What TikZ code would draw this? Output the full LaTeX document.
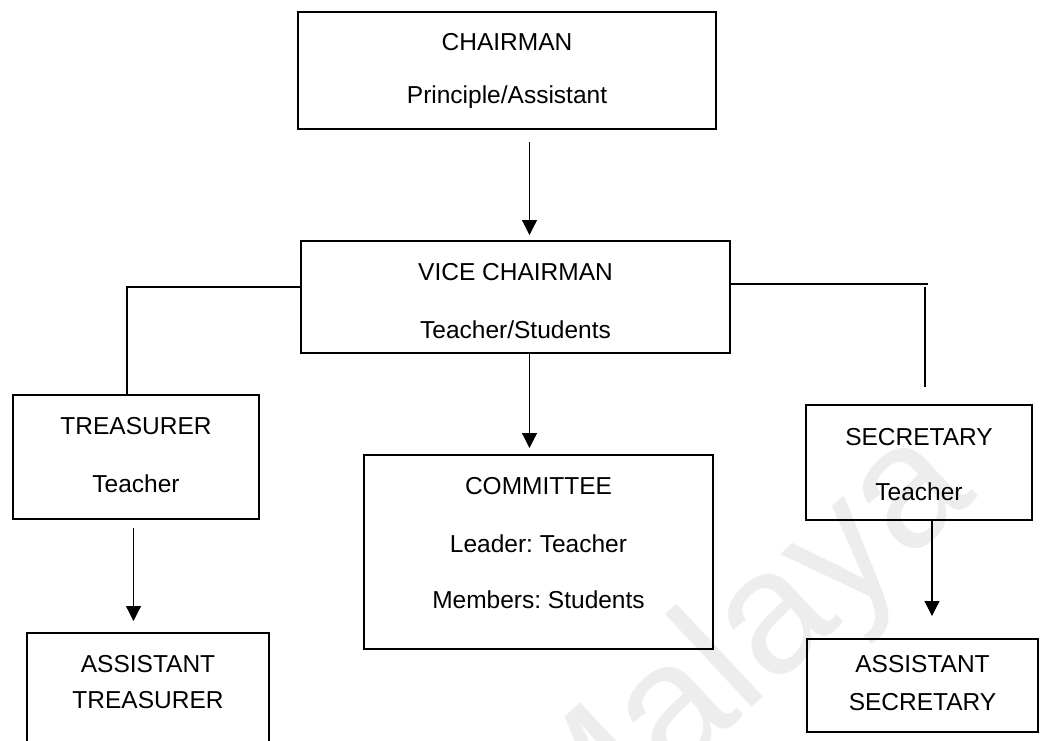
\documentclass[tikz,border=0pt]{standalone}
\usepackage{fontspec}
\setmainfont{Liberation Sans}
\usetikzlibrary{arrows.meta}
\frenchspacing
\begin{document}
\begin{tikzpicture}[x=1pt,y=-1pt,
  box/.style={draw=black, line width=2.6pt, rectangle, inner sep=0pt, outer sep=0pt},
  txt/.style={font=\fontsize{24.5}{29}\selectfont, anchor=base, inner sep=0pt},
  link/.style={line width=1.2pt},
  arr/.style={line width=1.2pt, -{Triangle[width=15pt,length=15pt]}}]
\clip (0,0) rectangle (1042,740);
\fill[white] (0,0) rectangle (1042,740);

% faint watermark
\node[anchor=base west, inner sep=0pt, rotate=43, text=black!7,
      font=\fontsize{175}{175}\selectfont] (wm) at (566,881) {Malaya};

% boxes
\node[box, minimum width=418pt, minimum height=117pt] (chair)  at (507,70.5) {};
\node[box, minimum width=429pt, minimum height=112pt] (vice)   at (515.5,297) {};
\node[box, minimum width=246pt, minimum height=124pt] (treas)  at (136,457) {};
\node[box, minimum width=349pt, minimum height=194pt] (comm)   at (538.5,552) {};
\node[box, minimum width=226pt, minimum height=115pt] (sec)    at (919,462.5) {};
\node[box, minimum width=242pt, minimum height=140pt] (atreas) at (148,703) {};
\node[box, minimum width=231pt, minimum height=93pt]  (asec)   at (922.5,685.5) {};

% texts
\node[txt] (t1a) at (507,50)  {CHAIRMAN};
\node[txt] (t1b) at (507,103) {Principle/Assistant};
\node[txt] (t2a) at (515.5,280) {VICE CHAIRMAN};
\node[txt] (t2b) at (515.5,338) {Teacher/Students};
\node[txt] (t3a) at (136,434) {TREASURER};
\node[txt] (t3b) at (136,492) {Teacher};
\node[txt] (t4a) at (538.5,494) {COMMITTEE};
\node[txt] (t4b) at (538.5,552) {Leader: Teacher};
\node[txt] (t4c) at (538.5,608) {Members: Students};
\node[txt] (t5a) at (919,445) {SECRETARY};
\node[txt] (t5b) at (919,500) {Teacher};
\node[txt] (t6a) at (148,672) {ASSISTANT};
\node[txt] (t6b) at (148,708) {TREASURER};
\node[txt] (t7a) at (922.5,672) {ASSISTANT};
\node[txt] (t7b) at (922.5,710) {SECRETARY};

% guide positions for the connectors
\coordinate (xc) at (529.5,0);
\coordinate (xl) at (127,0);
\coordinate (yl) at (0,287);
\coordinate (yr) at (0,284);
\coordinate (xr) at (928,0);
\coordinate (xv) at (925,287);
\coordinate (xt) at (133.5,0);
\coordinate (xs) at (932,0);

% connectors
\draw[arr, shorten <=13pt, shorten >=6pt] (chair.south -| xc) -- (vice.north -| xc);
\draw[arr, shorten >=7pt] (vice.south -| xc) -- (comm.north -| xc);
\draw[link] (vice.west |- yl) -| (treas.north -| xl);
\draw[link] (vice.east |- yr) -- (xr |- yr);
\draw[link, shorten >=18pt] (xv) -- (sec.north -| xv);
\draw[arr, shorten <=9pt, shorten >=12pt] (treas.south -| xt) -- (atreas.north -| xt);
\draw[arr, shorten >=23pt] (sec.south -| xs) -- (asec.north -| xs);
\end{tikzpicture}
\end{document}
